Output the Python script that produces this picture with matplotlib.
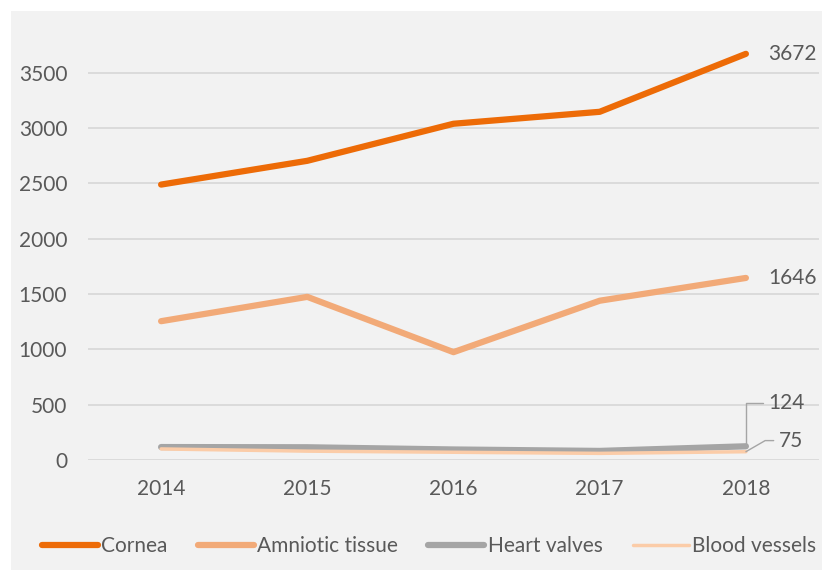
import matplotlib.pyplot as plt
from matplotlib.patches import Rectangle

years = ['2014', '2015', '2016', '2017', '2018']
cornea = [2490, 2705, 3040, 3148, 3672]
amniotic = [1255, 1475, 975, 1440, 1646]
heart_valves = [117, 115, 95, 82, 124]
blood_vessels = [100, 80, 70, 60, 75]

series = [('Cornea', cornea, '#ed6b07', 4.5),
          ('Amniotic tissue', amniotic, '#f2aa78', 4.5),
          ('Heart valves', heart_valves, '#a5a5a5', 4.5),
          ('Blood vessels', blood_vessels, '#fbcca8', 2.5)]

txt = '#595959'
fs = 15
plt.rcParams['font.family'] = ['Lato', 'DejaVu Sans']

W, H = 833, 578
fig = plt.figure(figsize=(W / 100, H / 100), dpi=100, facecolor='white')
fig.patches.append(Rectangle((11 / W, 1 - 570 / H), 811 / W, 559 / H,
                             transform=fig.transFigure, facecolor='#f2f2f2',
                             edgecolor='none', zorder=-10))

ax = fig.add_axes([88 / W, 1 - 460 / H, 731 / W, 440 / H])
ax.set_facecolor('none')
x = range(len(years))
for name, vals, col, lw in series:
    ax.plot(x, vals, color=col, lw=lw, solid_capstyle='round', label=name)

ax.set_xlim(-0.5, 4.5)
ax.set_ylim(0, 3978)
ax.set_yticks(range(0, 4000, 500))
ax.set_xticks(list(x))
ax.set_xticklabels(years)
ax.grid(axis='y', color='#d9d9d9', lw=1.3)
ax.set_axisbelow(True)
for s in ax.spines.values():
    s.set_visible(False)
ax.tick_params(length=0, colors=txt, labelsize=fs)
ax.tick_params(axis='y', pad=15)
ax.tick_params(axis='x', pad=14)

# end labels
ax.annotate(str(cornea[-1]), (4, cornea[-1]), xytext=(16, 0), textcoords='offset points',
            va='center', ha='left', fontsize=fs, color=txt)
ax.annotate(str(amniotic[-1]), (4, amniotic[-1]), xytext=(16, 0), textcoords='offset points',
            va='center', ha='left', fontsize=fs, color=txt)
ax.annotate(str(heart_valves[-1]), (4, heart_valves[-1]), xytext=(16, 31), textcoords='offset points',
            va='center', ha='left', fontsize=fs, color=txt,
            arrowprops=dict(arrowstyle='-', color='#a5a5a5', lw=1,
                            connectionstyle='angle,angleA=0,angleB=90,rad=0',
                            shrinkA=2, shrinkB=0))
ax.annotate(str(blood_vessels[-1]), (4, blood_vessels[-1]), xytext=(24, 8), textcoords='offset points',
            va='center', ha='left', fontsize=fs, color=txt,
            arrowprops=dict(arrowstyle='-', color='#a5a5a5', lw=1,
                            connectionstyle='angle,angleA=0,angleB=30,rad=0',
                            shrinkA=2, shrinkB=0))

fig.legend(loc='center', bbox_to_anchor=(429 / W, 1 - 546 / H), ncol=4, frameon=False,
           fontsize=fs, labelcolor=txt, handlelength=2.7, handletextpad=0.15,
           columnspacing=1.45)

fig.savefig('out.png', dpi=100)
